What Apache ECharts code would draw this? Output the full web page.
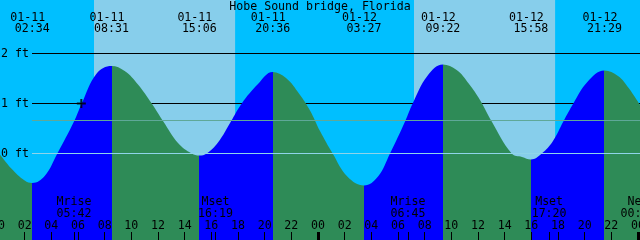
<!DOCTYPE html>
<html>
<head>
<meta charset="utf-8">
<script src="https://cdn.jsdelivr.net/npm/echarts@6/dist/echarts.min.js"></script>
<style>html,body{margin:0;padding:0;background:#00BFFF;}#c{width:640px;height:240px;}</style>
</head>
<body>
<div id="c"></div>
<script>
// ---- data ----
const title = 'Hobe Sound bridge, Florida';
const tideDates   = ['01-11','01-11','01-11','01-11','01-12','01-12','01-12','01-12'];
const tideTimes   = ['02:34','08:31','15:06','20:36','03:27','09:22','15:58','21:29'];
const tideHeights = [-0.59, 1.75, -0.04, 1.63, -0.64, 1.78, -0.12, 1.66];
// intermediate readings of the curve: [hour since 01-11 00:00, feet]
const curveReadings = [
  [0.15,-0.02],[1.0,-0.30],[2.0,-0.54],
  [3.5,-0.45],[4.45,0.0],[5.7,0.64],[6.28,1.0],[7.4,1.6],
  [9.5,1.65],[10.5,1.38],[11.53,1.0],[12.4,0.64],[13.5,0.21],[14.53,0.0],
  [15.65,0.0],[16.5,0.22],[17.47,0.64],[18.28,1.0],[19.5,1.39],
  [21.6,1.51],[22.6,1.19],[23.4,0.86],[24.15,0.45],[25.1,0.0],[26.2,-0.46],
  [28.5,-0.46],[29.4,0.0],[30.53,0.64],[31.1,1.0],[32.2,1.55],
  [34.4,1.67],[35.3,1.4],[36.15,1.07],[37.03,0.64],[38.53,0.0],[39.3,-0.07],
  [40.78,0.0],[41.6,0.24],[42.4,0.64],[43.15,1.0],[44.2,1.43],
  [46.5,1.55],[47.3,1.31],[48.15,0.97]
];
const moonEvents = ['Mrise','Mset','Mrise','Mset','New'];
const moonDates  = ['01-11','01-11','01-12','01-12','01-13'];
const moonTimes  = ['05:42','16:19','06:45','17:20','00:00'];
const sunDates   = ['01-11','01-12'];
const sunrise    = ['07:12','07:12'];
const sunset     = ['17:47','17:47'];
const hourTicks  = [0,2,4,6,8,10,12,14,16,18,20,22,24,26,28,30,32,34,36,38,40,42,44,46,48];
const dayTicks   = [24,48];
const blackLevels = [2,1];
const zeroLevel = 0;
const mslLevel = 0.66;
const levelLabels = [0,1,2];
const markPoint = [6.25, 1.0];

// ---- helpers ----
const FONT = 'DejaVu Sans Mono';
const FS = 11.6;
function toHour(d, t){
  const day = parseInt(d.slice(3),10) - 11;
  const [hh, mm] = t.split(':').map(Number);
  return day*24 + hh + mm/60;
}
const tideHours = tideTimes.map((t,i)=>toHour(tideDates[i], t));
const moonHours = moonTimes.map((t,i)=>toHour(moonDates[i], t));
const XMIN = 0, XMAX = 48.15, YMIN = -1.73, YMAX = 3.07;
const LINE_START = 2.55;

const tideData = curveReadings.concat(tideHours.map((h,i)=>[h, tideHeights[i]]))
  .sort((a,b)=>a[0]-b[0]);

const FLOOD = '#0000FF', EBB = '#2E8B57';
const pieces = [];
pieces.push({lt: tideHours[0], color: EBB});
for (let i=0;i<tideHours.length-1;i++){
  pieces.push({gte: tideHours[i], lt: tideHours[i+1], color: tideHeights[i] < tideHeights[i+1] ? FLOOD : EBB});
}
pieces.push({gte: tideHours[tideHours.length-1], color: EBB});

const dayAreas = sunDates.map((d,i)=>[{xAxis: toHour(d, sunrise[i])},{xAxis: toHour(d, sunset[i])}]);

function findIdx(arr, v){ for (let i=0;i<arr.length;i++){ if (Math.abs(arr[i]-v)<1e-6) return i; } return -1; }

const series = [];
blackLevels.forEach((lv, k)=>{
  const s = {
    type:'line', xAxisIndex:0, yAxisIndex:0, z:1, silent:true, showSymbol:false, animation:false,
    data:[[LINE_START, lv],[XMAX, lv]],
    lineStyle:{color:'#000', width:1}
  };
  if (k===0){
    s.markArea = {silent:true, z:0, itemStyle:{color:'#87CEEB', opacity:1}, data: dayAreas};
  }
  series.push(s);
});
const tideIndex = series.length;
series.push({
  type:'line', xAxisIndex:0, yAxisIndex:0, z:2, silent:true, showSymbol:false, animation:false,
  smooth:0.4, data: tideData,
  lineStyle:{width:0},
  areaStyle:{opacity:1, origin:'start'}
});
series.push({
  type:'line', xAxisIndex:0, yAxisIndex:0, z:3, silent:true, showSymbol:false, animation:false,
  data:[[LINE_START, mslLevel],[XMAX, mslLevel]], lineStyle:{color:'#5FA898', width:1}
});
series.push({
  type:'line', xAxisIndex:0, yAxisIndex:0, z:3, silent:true, showSymbol:false, animation:false,
  data:[[LINE_START, zeroLevel],[XMAX, zeroLevel]], lineStyle:{color:'#8FD4EA', width:1}
});
series.push({
  type:'scatter', xAxisIndex:0, yAxisIndex:0, z:4, silent:true, animation:false,
  data:[markPoint], symbol:'path://M3.5,0H5.5V3.5H9V5.5H5.5V9H3.5V5.5H0V3.5H3.5Z', symbolSize:9,
  itemStyle:{color:'#000'}
});

const txt = {fontFamily: FONT, fontSize: FS, color:'#000'};
const gridBase = {left:-2,right:0,top:0,bottom:0,containLabel:false,outerBoundsMode:'none'};

const option = {
  backgroundColor:'#00BFFF',
  animation:false,
  title:{text:title, left:'center', top:0, padding:[1,0,0,0], textStyle:Object.assign({fontWeight:'normal', lineHeight:12}, txt)},
  grid:[Object.assign({}, gridBase), Object.assign({}, gridBase)],
  xAxis:[
    {gridIndex:0, type:'value', position:'bottom', min:XMIN, max:XMAX, z:10,
     axisLine:{show:false, onZero:false}, splitLine:{show:false},
     axisTick:{show:true, inside:true, length:8, customValues: hourTicks.concat(moonHours.slice(0,4)), lineStyle:{color:'#000', width:1}},
     axisLabel:Object.assign({show:true, inside:true, margin:8.5, lineHeight:12, customValues: hourTicks,
       formatter:(v)=>String(Math.round(v)%24).padStart(2,'0')}, txt)},
    {gridIndex:0, type:'value', position:'top', min:XMIN, max:XMAX, z:10,
     axisLine:{show:false, onZero:false}, splitLine:{show:false}, axisTick:{show:false},
     axisLabel:Object.assign({show:true, inside:true, margin:12, customValues: tideHours,
       formatter:(v)=>{const i=findIdx(tideHours,v); return i<0?'':'{d|'+tideDates[i]+'}\n{t|'+tideTimes[i]+'}';},
       rich:{d:Object.assign({padding:[0,9,0,0], lineHeight:11.5}, txt), t:Object.assign({lineHeight:11.5}, txt)}}, txt)},
    {gridIndex:1, type:'value', position:'bottom', min:XMIN, max:XMAX, z:10,
     axisLine:{show:false, onZero:false}, splitLine:{show:false},
     axisTick:{show:true, inside:true, length:8, customValues: dayTicks, lineStyle:{color:'#000', width:3}},
     axisLabel:Object.assign({show:true, inside:true, margin:20.5, lineHeight:12, customValues: moonHours,
       formatter:(v)=>{const i=findIdx(moonHours,v); return i<0?'':moonEvents[i]+'\n'+moonTimes[i];}}, txt)}
  ],
  yAxis:[
    {gridIndex:0, type:'value', min:YMIN, max:YMAX, z:10, axisLine:{show:false, onZero:false}, splitLine:{show:false}, axisTick:{show:false},
     axisLabel:Object.assign({show:true, inside:true, margin:3, customValues: levelLabels, formatter:(v)=>v+' ft'}, txt)},
    {gridIndex:1, type:'value', min:YMIN, max:YMAX, show:false}
  ],
  visualMap:{type:'piecewise', show:false, dimension:0, seriesIndex:tideIndex, pieces: pieces},
  series: series
};
const chart = echarts.init(document.getElementById('c'), null, {renderer:'canvas'});
chart.setOption(option);
</script>
</body>
</html>
